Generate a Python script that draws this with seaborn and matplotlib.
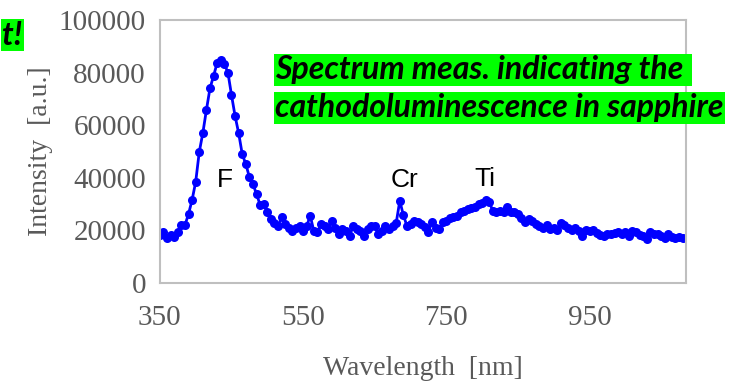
import matplotlib
matplotlib.use("Agg")
import matplotlib.pyplot as plt
import numpy as np
import pandas as pd
import seaborn as sns

# Wavelength grid of the spectrometer [nm], 5 nm steps
wavelength = np.arange(350, 1085, 5)

# Intensity, in thousands of a.u.
intensity_k = [
    # 350 - 505
    18.3, 19.4, 17.1, 18.3, 17.5, 19.4, 22.0, 22.0, 26.2, 31.6, 38.4, 49.8,
    57.0, 65.8, 74.0, 78.7, 83.7, 84.8, 83.3, 80.0, 71.5, 63.5, 57.0, 49.0,
    45.2, 40.3, 37.6, 33.8, 29.7, 30.0, 27.0, 24.5,
    # 510 - 695
    23.0, 21.7, 25.0, 22.4, 20.9, 19.8, 20.9, 21.7, 19.8, 21.7, 25.5, 19.8,
    19.4, 22.4, 21.7, 20.5, 23.6, 20.9, 18.6, 20.5, 19.8, 17.9, 21.7, 20.5,
    19.8, 17.9, 20.5, 21.7, 21.7, 18.6, 19.8, 21.7, 20.5, 21.7, 22.8, 31.2,
    25.9, 21.7,
    # 700 - 895
    22.5, 23.6, 23.2, 22.4, 21.3, 19.4, 23.2, 20.9, 20.5, 23.2, 23.6, 24.7,
    25.1, 25.5, 27.0, 27.5, 28.1, 28.5, 28.9, 30.0, 30.4, 31.6, 30.8, 27.4,
    27.0, 27.4, 27.0, 28.9, 27.0, 27.0, 26.2, 24.7, 23.2, 24.3, 23.6, 22.5,
    21.7, 20.9, 22.0, 20.5,
    # 900 - 1080
    20.9, 20.2, 22.8, 22.0, 20.9, 20.2, 20.9, 19.8, 17.9, 20.2, 19.8, 20.2,
    19.0, 18.3, 17.9, 18.6, 18.6, 19.0, 19.4, 18.6, 19.4, 17.9, 19.8, 19.4,
    18.3, 17.9, 16.7, 19.4, 18.6, 18.6, 17.9, 17.1, 18.6, 17.5, 17.1, 17.5,
    17.1,
]

# Peak labels: (text, wavelength, intensity)
peak_labels = ["F", "Cr", "Ti"]
peak_x = [441, 692, 804]
peak_y = [39000, 39000, 39500]

x_ticks = [350, 550, 750, 950]
y_ticks = [0, 20000, 40000, 60000, 80000, 100000]

df = pd.DataFrame({"wavelength": wavelength,
                   "intensity": np.array(intensity_k) * 1000})

sns.set_style("white")
plt.rcParams['font.family'] = ['Liberation Serif', 'DejaVu Serif']

fig = plt.figure(figsize=(7.3, 3.82), dpi=100)
ax = fig.add_axes([0.219, 0.259, 0.721, 0.689])

sns.lineplot(data=df, x="wavelength", y="intensity", ax=ax, sort=False,
             color="#0000ff", linewidth=2, marker="o", markersize=6.5,
             markeredgewidth=0)

ax.set_xlim(350, 1085)
ax.set_ylim(0, 100000)
ax.set_xticks(x_ticks)
ax.set_yticks(y_ticks)
ax.tick_params(axis="both", length=0, labelsize=21, labelcolor="#595959")
ax.tick_params(axis="x", pad=16)
ax.tick_params(axis="y", pad=10)

ax.set_xlabel("Wavelength  [nm]", fontsize=20, color="#595959", labelpad=18)
ax.set_ylabel("Intensity  [a.u.]", fontsize=20, color="#595959", labelpad=4)

# Gray frame on all sides
for side in ["left", "right", "top", "bottom"]:
    ax.spines[side].set_visible(True)
    ax.spines[side].set_color("#bfbfbf")
    ax.spines[side].set_linewidth(1.5)

# Peak annotations
for label, px, py in zip(peak_labels, peak_x, peak_y):
    ax.text(px, py, label, ha="center", va="center", fontsize=19,
            family=["Liberation Sans", "DejaVu Sans"], color="black")

# Green highlighted note
note_font = dict(fontsize=23, fontweight="bold", fontstyle="italic",
                 family=["Lato", "DejaVu Sans"], color="black")
fig.text(0.377, 0.817, "Spectrum meas. indicating the ", ha="left",
         va="center", bbox=dict(facecolor="#00ff00", edgecolor="none", pad=1),
         **note_font)
fig.text(0.377, 0.718, "cathodoluminescence in sapphire", ha="left",
         va="center", bbox=dict(facecolor="#00ff00", edgecolor="none", pad=1),
         **note_font)

# Cut-off note at the top-left edge
fig.text(0.003, 0.908, "t!", ha="left", va="center",
         bbox=dict(facecolor="#00ff00", edgecolor="none", pad=1), **note_font)

plt.savefig("out.png", dpi=100)
